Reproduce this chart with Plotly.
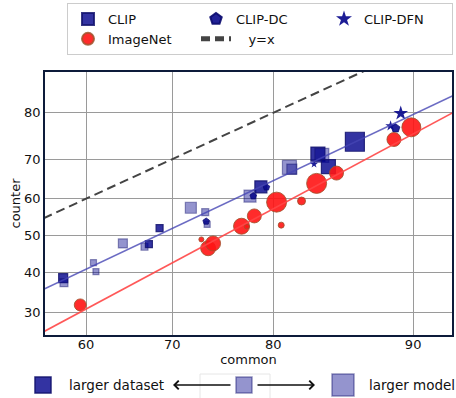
import numpy as np
import plotly.graph_objects as go
from statistics import NormalDist

# ---------------- data (accuracy %) ----------------
clip_common   = [57.2, 57.3, 60.9, 61.2, 64.4, 66.9, 67.4, 68.6, 72.0, 73.5, 73.7,
                 77.9, 78.9, 81.4, 81.6, 83.7, 84.0, 84.5, 86.4]
clip_counter  = [38.6, 37.4, 42.7, 40.3, 47.9, 47.0, 47.7, 52.1, 57.6, 56.4, 53.1,
                 60.7, 63.1, 68.0, 67.6, 71.2, 70.9, 68.2, 74.0]
clip_model    = [9, 8, 6, 6, 9, 7, 7, 7, 11, 7, 6, 12, 12, 14, 10, 14, 14, 14, 19]
clip_largedata = [1, 0, 0, 0, 0, 0, 1, 1, 0, 0, 0, 0, 1, 0, 0, 1, 0, 1, 1]

dc_common  = [73.6, 78.2, 79.4, 89.0]
dc_counter = [53.9, 60.7, 63.0, 76.9]
dc_model   = [7, 7, 7, 9]

dfn_common  = [83.4, 88.7, 89.3]
dfn_counter = [68.8, 77.4, 79.9]
dfn_model   = [6, 8, 11]

inet_common  = [59.3, 73.1, 73.8, 74.3, 77.1, 77.6, 78.3, 80.3, 80.7, 82.4,
                83.6, 85.1, 88.9, 89.9]
inet_counter = [31.8, 49.0, 46.6, 47.9, 52.6, 52.5, 55.4, 59.1, 52.9, 59.4,
                64.0, 66.6, 74.5, 77.1]
inet_model   = [12, 5, 15, 15, 16, 5, 14, 20, 6, 8, 20, 14, 14, 19]

x_ticks = [60, 70, 80, 90]
y_ticks = [30, 40, 50, 60, 70, 80]
x_limits = [54.95, 91.98]
y_limits = [24.85, 86.88]

# ---------------- probit scale helpers ----------------
nd = NormalDist()
def probit(vals):
    return [nd.inv_cdf(v / 100.0) for v in vals]

W, H = 456, 398
L, R, T, B = 45, 4, 72, 63
PW, PH = W - L - R, H - T - B
def px(p):  # pixel x -> paper
    return (p - L) / PW
def py(p):  # pixel y -> paper
    return (H - B - p) / PH

DB = (0, 0, 139)
def rgba(c, a):
    return "rgba(%d,%d,%d,%.2f)" % (c[0], c[1], c[2], a)

fig = go.Figure()

# CLIP squares
fill = [rgba(DB, 0.80 if d else 0.42) for d in clip_largedata]
edge = [rgba((20, 20, 110), 0.85 if d else 0.45) for d in clip_largedata]
fig.add_trace(go.Scatter(
    x=probit(clip_common), y=probit(clip_counter), mode="markers", name="CLIP",
    marker=dict(symbol="square", size=clip_model, color=fill, opacity=1,
                line=dict(color=edge, width=1.2))))
# CLIP-DC pentagons
fig.add_trace(go.Scatter(
    x=probit(dc_common), y=probit(dc_counter), mode="markers", name="CLIP-DC",
    marker=dict(symbol="pentagon", size=dc_model, color=rgba((10, 10, 140), 0.9), opacity=1,
                line=dict(color=rgba((10, 10, 110), 0.9), width=0.8))))
# CLIP-DFN stars
fig.add_trace(go.Scatter(
    x=probit(dfn_common), y=probit(dfn_counter), mode="markers", name="CLIP-DFN",
    marker=dict(symbol="star", size=dfn_model, color=rgba((10, 10, 140), 0.92), opacity=1,
                line=dict(width=0))))
# ImageNet circles
fig.add_trace(go.Scatter(
    x=probit(inet_common), y=probit(inet_counter), mode="markers", name="ImageNet",
    marker=dict(symbol="circle", size=inet_model, color="rgba(255,20,20,0.9)", opacity=1,
                line=dict(color="rgba(160,82,45,0.85)", width=1))))

# y = x
fig.add_trace(go.Scatter(
    x=probit([50, 95]), y=probit([50, 95]), mode="lines", name="\u00a0\u00a0\u00a0y=x",
    line=dict(color="#444444", width=2, dash="9px,5px")))

# linear fits in probit space
bs, bi = np.polyfit(probit(clip_common), probit(clip_counter), 1)
rs, ri = np.polyfit(probit(inet_common), probit(inet_counter), 1)
xl = np.array(probit([50, 95]))
fig.add_trace(go.Scatter(x=xl, y=bs * xl + bi, mode="lines", showlegend=False,
                         line=dict(color="rgba(70,70,180,0.8)", width=1.6)))
fig.add_trace(go.Scatter(x=xl, y=rs * xl + ri, mode="lines", showlegend=False,
                         line=dict(color="rgba(255,70,70,0.9)", width=1.6)))

axis_common = dict(showgrid=True, gridcolor="#9a9a9a", gridwidth=1, zeroline=False,
                   showline=True, mirror=True, linecolor="#0d1b3a", linewidth=1.6,
                   ticks="", automargin=False,
                   tickfont=dict(family="DejaVu Sans", size=13, color="#111"))
fig.update_xaxes(range=probit(x_limits), tickvals=probit(x_ticks),
                 ticktext=[str(t) for t in x_ticks], ticklabelstandoff=-3,
                 title=dict(text="common", font=dict(family="DejaVu Sans", size=13, color="#111"),
                            standoff=0), **axis_common)
fig.update_yaxes(range=probit(y_limits), tickvals=probit(y_ticks),
                 ticktext=[str(t) for t in y_ticks],
                 title=dict(text="counter", font=dict(family="DejaVu Sans", size=13, color="#111"),
                            standoff=1), **axis_common)

shapes = []
# legend shadow
shapes.append(dict(type="rect", xref="paper", yref="paper",
                   x0=px(69), x1=px(443), y0=py(6), y1=py(52),
                   fillcolor="#b8b8b8", line=dict(width=0), layer="above"))
# bottom legend: squares and faint box
shapes.append(dict(type="rect", xref="paper", yref="paper",
                   x0=px(200), x1=px(270), y0=py(374), y1=py(400),
                   fillcolor="rgba(0,0,0,0)", line=dict(color="#e6e6e6", width=1)))
def sq(cx, cy, s, fillc, edgec):
    shapes.append(dict(type="rect", xref="paper", yref="paper",
                       x0=px(cx - s / 2), x1=px(cx + s / 2), y0=py(cy + s / 2), y1=py(cy - s / 2),
                       fillcolor=fillc, line=dict(color=edgec, width=1.5)))
sq(43, 385, 16, rgba(DB, 0.80), rgba((20, 20, 110), 0.9))
sq(244, 385, 16, rgba(DB, 0.42), rgba((20, 20, 110), 0.45))
sq(343, 385, 22, rgba(DB, 0.42), rgba((20, 20, 110), 0.45))

annotations = [
    dict(xref="paper", yref="paper", x=px(67), y=py(385), text="larger dataset",
         showarrow=False, xanchor="left", yanchor="middle",
         font=dict(family="DejaVu Sans", size=13.5, color="#111")),
    dict(xref="paper", yref="paper", x=px(367), y=py(385), text="larger model",
         showarrow=False, xanchor="left", yanchor="middle",
         font=dict(family="DejaVu Sans", size=13.5, color="#111")),
    dict(xref="paper", yref="paper", x=px(173), y=py(385), ax=59, ay=0,
         axref="pixel", ayref="pixel", text="", showarrow=True,
         arrowhead=4, arrowsize=1.3, arrowwidth=1.3, arrowcolor="#111"),
    dict(xref="paper", yref="paper", x=px(315), y=py(385), ax=-59, ay=0,
         axref="pixel", ayref="pixel", text="", showarrow=True,
         arrowhead=4, arrowsize=1.3, arrowwidth=1.3, arrowcolor="#111"),
]

fig.update_layout(
    width=W, height=H, margin=dict(l=L, r=R, t=T, b=B, pad=0, autoexpand=False),
    paper_bgcolor="white", plot_bgcolor="white",
    font=dict(family="DejaVu Sans", size=13, color="#111"),
    shapes=shapes, annotations=annotations,
    legend=dict(orientation="h", xref="container", yref="container",
                x=67 / W, y=1 - 3 / H, xanchor="left", yanchor="top",
                entrywidth=83, entrywidthmode="pixels", itemsizing="constant",
                bgcolor="white", bordercolor="#cccccc", borderwidth=1,
                font=dict(family="DejaVu Sans", size=13, color="#111")),
)

fig.write_html("out.html")
